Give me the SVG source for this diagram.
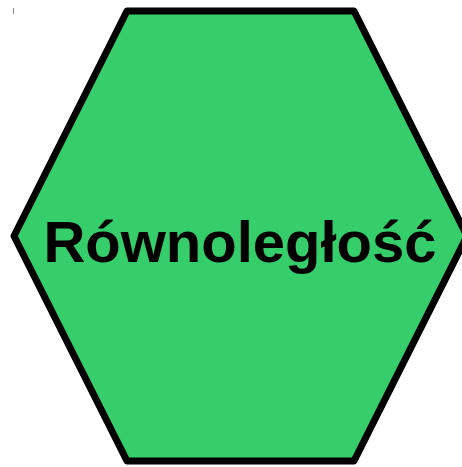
<svg xmlns="http://www.w3.org/2000/svg" width="462" height="467" viewBox="0 0 462 467">
<style>
.hex{fill:#36cd6b;stroke:#000;stroke-width:7;stroke-linejoin:round}
.lbl{font-family:"Liberation Sans",Arial,sans-serif;font-weight:bold;font-size:58px;fill:#000}
</style>
<line x1="13.5" y1="8" x2="13.5" y2="14" stroke="#888" stroke-width="1"/>
<g id="node-rownoleglosc">
<polygon class="hex" points="127,11 354,11 467,236 354,461 127,461 14,236"/>
<text class="lbl" x="240" y="262" text-anchor="middle">Równoległość</text>
</g>
<g id="connectors"/>
</svg>
